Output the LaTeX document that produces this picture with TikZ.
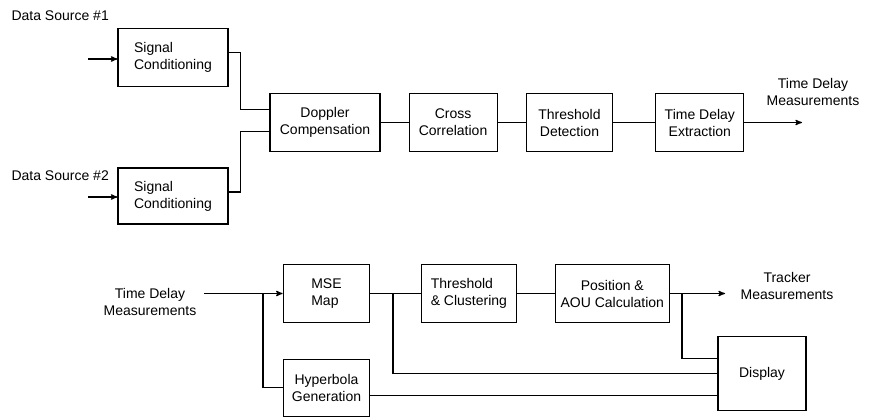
\documentclass[tikz,border=0pt]{standalone}
\usepackage{fontspec}
\setmainfont{Liberation Sans}
\usetikzlibrary{arrows,positioning}

\begin{document}
\begin{tikzpicture}[x=0.75pt,y=-0.75pt,>=stealth',line width=0.8pt,
    font=\fontsize{10.5}{12.75}\selectfont,
    block/.style={draw,rectangle,inner sep=2pt,minimum height=43.5pt,align=center},
    lbl/.style={align=center,inner sep=0pt}]
  \useasboundingbox (0,0) rectangle (871,417);

  % time delay estimation
  \node[lbl,anchor=west]                 (ds1) at (11,16)   {Data Source \#1};
  \node[lbl,anchor=west]                 (ds2) at (11,176)  {Data Source \#2};
  \node[block,align=left,minimum width=82.5pt] (sc1) at (173,57.5) {Signal\\Conditioning};
  \node[block,align=left,minimum width=82.5pt,minimum height=42pt] (sc2) at (173,196) {Signal\\Conditioning};
  \node[block,minimum width=82.5pt]      (dop) at (325,122.5) {Doppler\\Compensation};
  \node[block,minimum width=66pt]        (cc)  [right=21pt of dop]   {Cross\\Correlation};
  \node[block,minimum width=65pt]        (thr) [right=21pt of cc]    {Threshold\\Detection};
  \node[block,minimum width=66pt]        (tde) [right=31.5pt of thr] {Time Delay\\Extraction};
  \node[lbl]                             (tdm) at (813,92)  {Time Delay\\Measurements};

  \coordinate (in1)  at (88,59);
  \coordinate (in2)  at (88,197);
  \coordinate (out1) at (802,122.5);

  \draw[->] (in1) -- (in1 -| sc1.west);
  \draw[->] (in2) -- (in2 -| sc2.west);
  \draw ([yshift=4pt]sc1.east) -- ++(12,0) |- ([yshift=10pt]dop.west);
  \draw ([yshift=3pt]sc2.east) -- ++(12,0) |- ([yshift=-6.5pt]dop.west);
  \draw (dop) -- (cc);
  \draw (cc) -- (thr);
  \draw (thr) -- (tde);
  \draw[->] (tde.east |- out1) -- (out1);

  % localization
  \node[lbl]                             (tdm2) at (150,302) {Time Delay\\Measurements};
  \node[block,align=left,minimum width=65pt] (mse) at (326.5,293.5) {MSE\\Map};
  \node[block,minimum width=65pt,minimum height=42.5pt] (hyp) [below=27pt of mse] {Hyperbola\\Generation};
  \node[block,align=left,minimum width=71pt] (tc)  [right=38pt of mse] {Threshold\\\& Clustering};
  \node[block,minimum width=85.5pt]      (pos) [right=28.5pt of tc]  {Position \&\\AOU Calculation};
  \node[block,minimum width=66pt,minimum height=55pt] (disp) at (762,373.5) {Display};
  \node[lbl]                             (trk) at (787,286) {Tracker\\Measurements};

  \coordinate (in3)  at (204,293.5);
  \coordinate (b1)   at (263,293.5);
  \coordinate (b2)   at (393,293.5);
  \coordinate (b3)   at (682,293.5);
  \coordinate (out2) at (725,293.5);

  \draw[->] (in3) -- (mse);
  \draw (b1) |- (hyp);
  \draw (mse) -- (tc);
  \draw (b2) |- (disp.west);
  \draw ([yshift=-6pt]hyp.east) -- ([yshift=-6pt]hyp.east -| disp.west);
  \draw (tc) -- (tc -| pos.west);
  \draw[->] (pos.east |- out2) -- (out2);
  \draw (b3) |- ([yshift=11pt]disp.west);
\end{tikzpicture}
\end{document}
